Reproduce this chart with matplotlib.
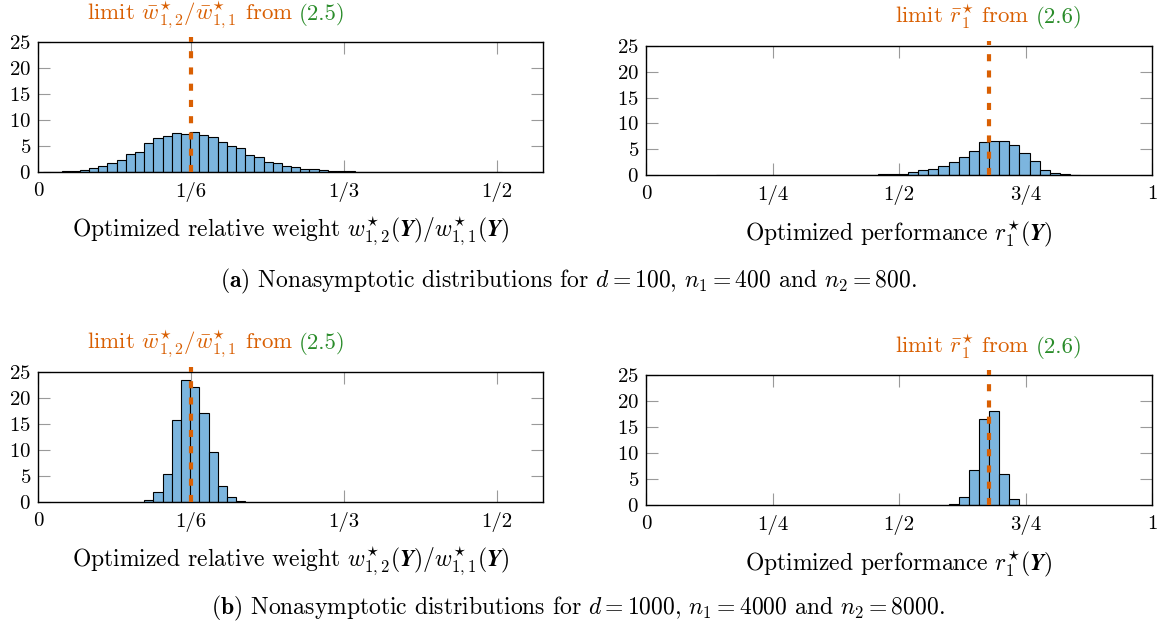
import matplotlib.pyplot as plt
import numpy as np

plt.rcParams["font.family"] = "serif"
plt.rcParams["font.serif"] = ["cmr10"]
plt.rcParams["mathtext.fontset"] = "cm"
plt.rcParams["axes.formatter.use_mathtext"] = True

W, H = 1163, 626
BAR = "#7cb5de"
ORANGE = "#d95f02"
GREEN = "#2a8c2a"
TICK = "#9a9a9a"

# limits from (2.5) and (2.6)
weight_limit = 1 / 6
perf_limit = 0.678

# (a) d = 100, n1 = 400, n2 = 800
weight_a_start = 0.0056
weight_a_width = 0.01
weight_a = [0.05, 0.08, 0.12, 0.2, 0.35, 0.75, 1.15, 1.8, 2.35, 3.45,
            3.9, 5.5, 6.55, 6.85, 7.55, 7.35, 7.6, 7.1, 6.7, 5.75,
            5.05, 4.65, 3.25, 2.85, 1.9, 1.65, 1.15, 1.0, 0.65, 0.5,
            0.4, 0.25, 0.2, 0.13, 0.08, 0.06, 0.04, 0.03, 0.03, 0.02,
            0.02, 0.02, 0.01, 0.01, 0.01, 0.01, 0.01, 0.01, 0.01, 0.01]
perf_a_start = 0.138
perf_a_width = 0.02
perf_a = [0.01, 0.01, 0.01, 0.01, 0.01, 0.02, 0.02, 0.02, 0.02, 0.03,
          0.03, 0.04, 0.05, 0.06, 0.07, 0.08, 0.1, 0.13, 0.2,
          0.64, 0.9, 1.1, 1.8, 2.6, 3.5, 4.7, 6.3, 6.55, 6.5,
          5.8, 4.25, 2.7, 1.0, 0.45, 0.1, 0.03]

# (b) d = 1000, n1 = 4000, n2 = 8000
weight_b_start = 0.1157
weight_b_width = 0.01
weight_b = [0.4, 2.0, 5.45, 15.8, 23.4, 22.2, 17.05, 9.6, 3.0, 1.0, 0.25]
perf_b_start = 0.598
perf_b_width = 0.02
perf_b = [0.25, 1.5, 6.75, 16.5, 18.1, 5.9, 1.15]

weight_ticks = [0, 1 / 6, 1 / 3, 1 / 2]
weight_labels = ["0", "1/6", "1/3", "1/2"]
perf_ticks = [0, 0.25, 0.5, 0.75, 1]
perf_labels = ["0", "1/4", "1/2", "3/4", "1"]

weight_xlabel = r"Optimized relative weight $w^{\star}_{1,2}(\boldsymbol{Y})/w^{\star}_{1,1}(\boldsymbol{Y})$"
perf_xlabel = r"Optimized performance $r^{\star}_1(\boldsymbol{Y})$"
weight_title = r"limit $\bar{w}^{\star}_{1,2}/\bar{w}^{\star}_{1,1}$ from"
perf_title = r"limit $\bar{r}^{\star}_1$ from"

fig = plt.figure(figsize=(W / 100, H / 100), dpi=100)


def px_axes(left, top, right, bottom):
    return fig.add_axes([left / W, 1 - bottom / H, (right - left) / W, (bottom - top) / H])


def panel(ax, start, width, heights, limit, xmax, ticks, labels, xlabel):
    edges = start + width * np.arange(len(heights))
    ax.bar(edges, heights, width=width, align="edge", color=BAR,
           edgecolor="black", linewidth=0.8, zorder=2)
    ax.plot([limit, limit], [0, 26], color=ORANGE, lw=3, ls=(0, (1.7, 2.2)),
            clip_on=False, zorder=3)
    ax.set_xlim(0, xmax)
    ax.set_ylim(0, 25)
    ax.set_xticks(ticks, labels)
    ax.set_yticks([0, 5, 10, 15, 20, 25])
    ax.tick_params(direction="in", length=8.5, width=0.8, color=TICK,
                   top=True, right=True, labelsize=15)
    ax.tick_params(axis="x", pad=7)
    ax.tick_params(axis="y", pad=5)
    for s in ax.spines.values():
        s.set_linewidth(1.0)
    ax.set_xlabel(xlabel, fontsize=17, va="center")
    h = ax.get_position().height * H
    ax.xaxis.set_label_coords(0.5, -59 / h)


def limit_title(xc, ybase, main, ref):
    t1 = fig.text(0, 0, main, color=ORANGE, fontsize=16.5, va="baseline")
    t2 = fig.text(0, 0, ref, color=GREEN, fontsize=16.5, va="baseline")
    r = fig.canvas.get_renderer()
    w1 = t1.get_window_extent(r).width
    w2 = t2.get_window_extent(r).width
    gap = 6
    x0 = xc - (w1 + gap + w2) / 2
    t1.set_position((x0 / W, 1 - ybase / H))
    t2.set_position(((x0 + w1 + gap) / W, 1 - ybase / H))


ax1 = px_axes(38, 42, 543, 172)
panel(ax1, weight_a_start, weight_a_width, weight_a, weight_limit, 0.55,
      weight_ticks, weight_labels, weight_xlabel)
ax2 = px_axes(646, 46, 1152, 175)
panel(ax2, perf_a_start, perf_a_width, perf_a, perf_limit, 1.0,
      perf_ticks, perf_labels, perf_xlabel)
ax3 = px_axes(38, 372, 543, 502)
panel(ax3, weight_b_start, weight_b_width, weight_b, weight_limit, 0.55,
      weight_ticks, weight_labels, weight_xlabel)
ax4 = px_axes(646, 375, 1152, 505)
panel(ax4, perf_b_start, perf_b_width, perf_b, perf_limit, 1.0,
      perf_ticks, perf_labels, perf_xlabel)

limit_title(216, 20, weight_title, "(2.5)")
limit_title(989, 23, perf_title, "(2.6)")
limit_title(216, 349, weight_title, "(2.5)")
limit_title(989, 353, perf_title, "(2.6)")

fig.text(568 / W, 1 - 281 / H,
         r"$\mathbf{(a)}$ Nonasymptotic distributions for $d = 100$, $n_1 = 400$ and $n_2 = 800$.",
         ha="center", va="center", fontsize=17)
fig.text(578 / W, 1 - 608 / H,
         r"$\mathbf{(b)}$ Nonasymptotic distributions for $d = 1000$, $n_1 = 4000$ and $n_2 = 8000$.",
         ha="center", va="center", fontsize=17)

fig.savefig("out.png", dpi=100)
